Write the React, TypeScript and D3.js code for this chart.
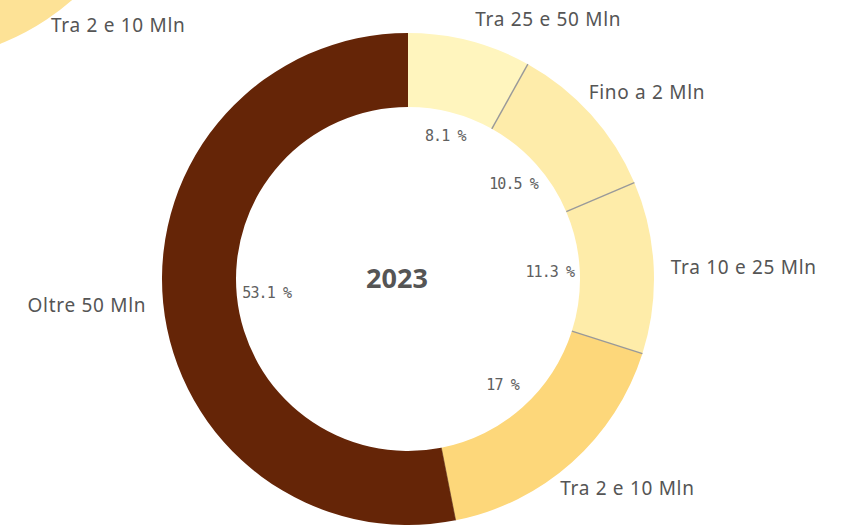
import React from "react";
import * as d3 from "d3";

const categories = ["Tra 25 e 50 Mln", "Fino a 2 Mln", "Tra 10 e 25 Mln", "Tra 2 e 10 Mln", "Oltre 50 Mln"];
const values = [8.1, 10.5, 11.3, 17, 53.1];
const colors = ["#FFF5BE", "#FEECAA", "#FEECA9", "#FDD77A", "#652507"];
const yearLabel = "2023";
const prevChartLabel = "Tra 2 e 10 Mln";

const W = 845;
const H = 527;
const cx = 408;
const cy = 279;
const rOuter = 246;
const rInner = 172;

const labelNudge: Record<string, [number, number]> = {
  "Tra 25 e 50 Mln": [1, -5],
  "Fino a 2 Mln": [-15, -11],
  "Tra 10 e 25 Mln": [0, 0],
  "Tra 2 e 10 Mln": [-23, 13],
  "Oltre 50 Mln": [0, 0],
};

const outerFont = { fontFamily: "Noto Sans", fontSize: 19, letterSpacing: 0.7, fill: "#555" };

export default function App() {
  const data = categories.map((c, i) => ({ c, v: values[i], color: colors[i] }));
  const pie = d3.pie<any>().value((d) => d.v).sort(null);
  const arcs = pie(data);
  const arc = d3.arc<any>().innerRadius(rInner).outerRadius(rOuter);

  // partial ring from a neighbouring chart in the top-left corner
  const prevArc = d3.arc<any>().innerRadius(rInner).outerRadius(rOuter)({
    startAngle: Math.PI * 0.5,
    endAngle: Math.PI,
  } as any);

  const pt = (a: number, r: number) => [cx + r * Math.sin(a), cy - r * Math.cos(a)];

  return (
    <svg width={W} height={H} style={{ position: "absolute", left: 0, top: 0, background: "#fff" }}>
      <g transform={`translate(-90,-185)`}>
        <path d={prevArc as string} fill="#FDE296" />
      </g>
      <text x={51} y={25} dominantBaseline="central" {...outerFont}>{prevChartLabel}</text>
      <g transform={`translate(${cx},${cy})`}>
        {arcs.map((a, i) => (
          <path key={i} d={arc(a) as string} fill={a.data.color} />
        ))}
      </g>
      {arcs.map((a, i) => {
        if (i === 0) return null;
        const prevDark = arcs[i - 1].data.color === "#652507";
        const thisDark = a.data.color === "#652507";
        const [x1, y1] = pt(a.startAngle, rInner);
        const [x2, y2] = pt(a.startAngle, rOuter);
        return (
          <line key={"l" + i} x1={x1} y1={y1} x2={x2} y2={y2}
            stroke={prevDark || thisDark ? "#5a2a10" : "#999"} strokeWidth={thisDark ? 0.6 : 1.4} />
        );
      })}
      {arcs.map((a, i) => {
        const mid = (a.startAngle + a.endAngle) / 2;
        const r = i === 0 ? 148 : 142;
        const [x, y] = pt(mid, r);
        return (
          <text key={"p" + i} x={x} y={y} textAnchor="middle" dominantBaseline="central"
            fontFamily="DejaVu Sans Mono" fontSize={15} letterSpacing={-0.9} fill="#606060">
            {`${a.data.v} %`}
          </text>
        );
      })}
      {arcs.map((a, i) => {
        const mid = (a.startAngle + a.endAngle) / 2;
        const [x, y] = pt(mid, 263);
        const right = Math.sin(mid) >= 0;
        const [dx, dy] = labelNudge[a.data.c] || [0, 0];
        return (
          <text key={"o" + i} x={x + dx} y={y + dy} textAnchor={right ? "start" : "end"}
            dominantBaseline="central" {...outerFont}>
            {a.data.c}
          </text>
        );
      })}
      <text x={397} y={277} textAnchor="middle" dominantBaseline="central"
        fontFamily="Open Sans" fontWeight="bold" fontSize={27} fill="#555">{yearLabel}</text>
    </svg>
  );
}
